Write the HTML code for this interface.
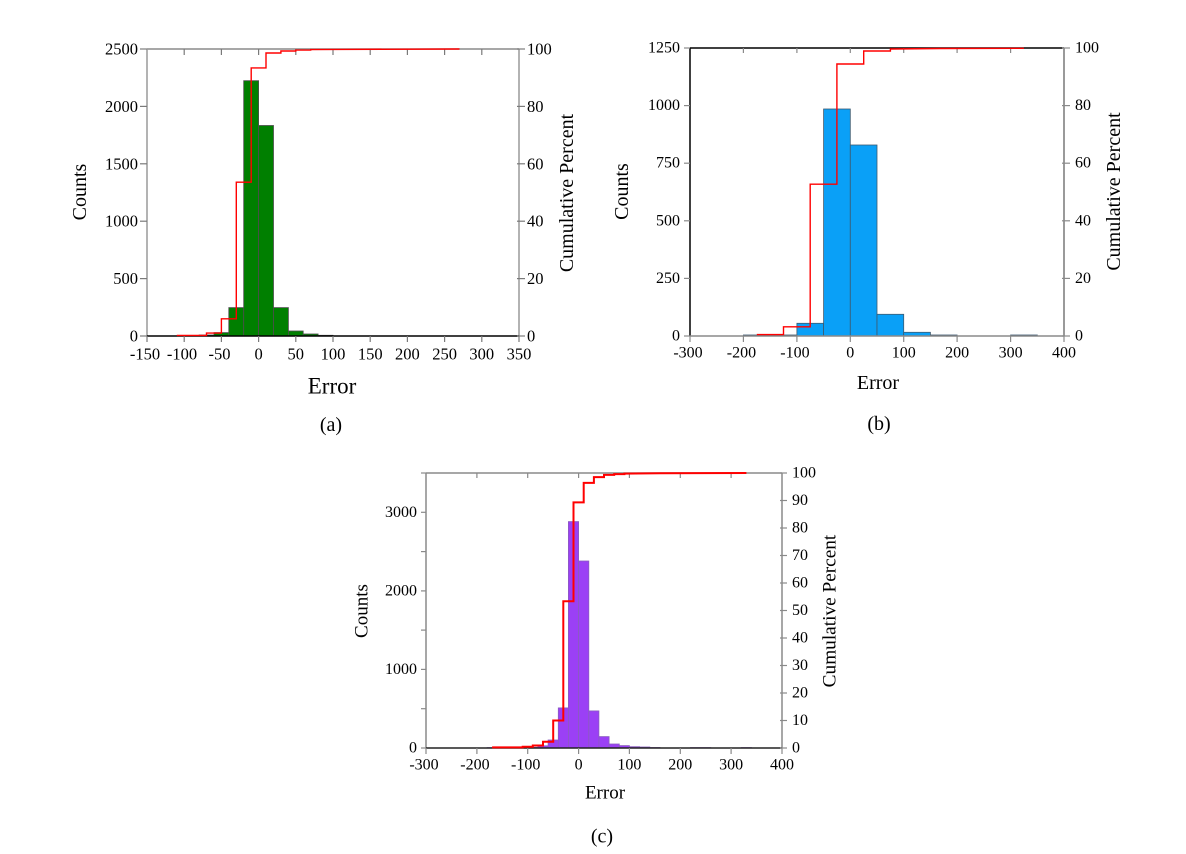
<!DOCTYPE html>
<html>
<head>
<meta charset="utf-8">
<style>
  html,body{margin:0;padding:0;background:#fff;}
  svg{display:block;}
  text{font-family:"Liberation Serif","Times New Roman",serif;fill:#000;}
</style>
</head>
<body>
<svg width="1186" height="854" viewBox="0 0 1186 854" xmlns="http://www.w3.org/2000/svg">
<rect width="1186" height="854" fill="#fff"/>

<!-- ================= PANEL A ================= -->
<g>
  <g fill="#007f00" stroke="#4d4d4d" stroke-width="0.8">
    <rect x="184.2" y="335.5" width="14.9" height="0.5"/>
    <rect x="199.1" y="335" width="14.9" height="1"/>
    <rect x="214" y="332.6" width="14.8" height="3.4"/>
    <rect x="228.8" y="307.6" width="14.9" height="28.4"/>
    <rect x="243.7" y="80.7" width="14.9" height="255.3"/>
    <rect x="258.6" y="125.5" width="14.9" height="210.5"/>
    <rect x="273.5" y="307.6" width="14.9" height="28.4"/>
    <rect x="288.4" y="331" width="14.8" height="5"/>
    <rect x="303.2" y="334" width="14.9" height="2"/>
    <rect x="318.1" y="335.3" width="14.9" height="0.7"/>
  </g>
  <line x1="147" y1="49" x2="519" y2="49" stroke="#8a8a8a" stroke-width="1.5"/>
  <line x1="147" y1="49" x2="147" y2="336" stroke="#9a9a9a" stroke-width="1.5"/>
  <line x1="519" y1="49" x2="519" y2="336" stroke="#9a9a9a" stroke-width="1.5"/>
  <line x1="147" y1="336" x2="519" y2="336" stroke="#000" stroke-width="1.5"/>
  <g stroke="#7a7a7a" stroke-width="1.2">
    <line x1="147" y1="336" x2="147" y2="342"/><line x1="184.2" y1="336" x2="184.2" y2="342"/>
    <line x1="221.4" y1="336" x2="221.4" y2="342"/><line x1="258.6" y1="336" x2="258.6" y2="342"/>
    <line x1="295.8" y1="336" x2="295.8" y2="342"/><line x1="333" y1="336" x2="333" y2="342"/>
    <line x1="370.2" y1="336" x2="370.2" y2="342"/><line x1="407.4" y1="336" x2="407.4" y2="342"/>
    <line x1="444.6" y1="336" x2="444.6" y2="342"/><line x1="481.8" y1="336" x2="481.8" y2="342"/>
    <line x1="519" y1="336" x2="519" y2="342"/>
    <line x1="184.2" y1="49" x2="184.2" y2="55"/><line x1="221.4" y1="49" x2="221.4" y2="55"/>
    <line x1="258.6" y1="49" x2="258.6" y2="55"/><line x1="295.8" y1="49" x2="295.8" y2="55"/>
    <line x1="333" y1="49" x2="333" y2="55"/><line x1="370.2" y1="49" x2="370.2" y2="55"/>
    <line x1="407.4" y1="49" x2="407.4" y2="55"/><line x1="444.6" y1="49" x2="444.6" y2="55"/>
    <line x1="481.8" y1="49" x2="481.8" y2="55"/>
    <line x1="140" y1="49" x2="147" y2="49"/><line x1="140" y1="106.4" x2="147" y2="106.4"/>
    <line x1="140" y1="163.8" x2="147" y2="163.8"/><line x1="140" y1="221.2" x2="147" y2="221.2"/>
    <line x1="140" y1="278.6" x2="147" y2="278.6"/><line x1="140" y1="336" x2="147" y2="336"/>
    <line x1="517" y1="49" x2="525" y2="49"/><line x1="517" y1="106.4" x2="525" y2="106.4"/>
    <line x1="517" y1="163.8" x2="525" y2="163.8"/><line x1="517" y1="221.2" x2="525" y2="221.2"/>
    <line x1="517" y1="278.6" x2="525" y2="278.6"/><line x1="517" y1="336" x2="525" y2="336"/>
  </g>
  <polyline fill="none" stroke="#ff0000" stroke-width="1.4"
    points="176.8,335.4 206.5,335.4 206.5,333.1 221.4,333.1 221.4,318.8 236.3,318.8 236.3,182.2 251.2,182.2 251.2,67.9 266,67.9 266,53 280.9,53 280.9,51 295.8,51 295.8,50.1 310.7,50.1 310.7,49.6 340,49.4 459.5,49"/>
  <g font-size="16.5" text-anchor="end" dominant-baseline="central">
    <text x="138" y="49">2500</text><text x="138" y="106.4">2000</text>
    <text x="138" y="163.8">1500</text><text x="138" y="221.2">1000</text>
    <text x="138" y="278.6">500</text><text x="138" y="336">0</text>
  </g>
  <g font-size="16.5" text-anchor="start" dominant-baseline="central">
    <text x="527" y="49">100</text><text x="527" y="106.4">80</text>
    <text x="527" y="163.8">60</text><text x="527" y="221.2">40</text>
    <text x="527" y="278.6">20</text><text x="527" y="336">0</text>
  </g>
  <g font-size="16.5" text-anchor="middle" dominant-baseline="central">
    <text x="145" y="354">-150</text><text x="182" y="354">-100</text>
    <text x="219.5" y="354">-50</text><text x="258.6" y="354">0</text>
    <text x="295.8" y="354">50</text><text x="333" y="354">100</text>
    <text x="370.2" y="354">150</text><text x="407.4" y="354">200</text>
    <text x="444.6" y="354">250</text><text x="481.8" y="354">300</text>
    <text x="519" y="354">350</text>
  </g>
  <text x="80" y="192" font-size="20" text-anchor="middle" dominant-baseline="central" transform="rotate(-90 80 192)">Counts</text>
  <text x="567" y="193" font-size="20" text-anchor="middle" dominant-baseline="central" transform="rotate(-90 567 193)">Cumulative Percent</text>
  <text x="332" y="386" font-size="23" text-anchor="middle" dominant-baseline="central">Error</text>
  <text x="331" y="425" font-size="20" text-anchor="middle" dominant-baseline="central">(a)</text>
</g>

<!-- ================= PANEL B ================= -->
<g>
  <g fill="#0aa0f7" stroke="#3d5a70" stroke-width="0.8">
    <rect x="743.4" y="335" width="26.7" height="1" fill="#1a3a6a"/>
    <rect x="770.1" y="335" width="26.8" height="1" fill="#1a3a6a"/>
    <rect x="796.9" y="323.3" width="26.7" height="12.7"/>
    <rect x="823.6" y="109" width="26.7" height="227"/>
    <rect x="850.3" y="145" width="26.7" height="191"/>
    <rect x="877" y="314.3" width="26.7" height="21.7"/>
    <rect x="903.7" y="332.3" width="26.7" height="3.7"/>
    <rect x="930.4" y="335" width="26.7" height="1" fill="#1a3a6a"/>
    <rect x="1010.6" y="335" width="26.7" height="1" fill="#1a3a6a"/>
  </g>
  <line x1="690" y1="48" x2="1064" y2="48" stroke="#000" stroke-width="1.5"/>
  <line x1="690" y1="48" x2="690" y2="336" stroke="#000" stroke-width="1.5"/>
  <line x1="1064" y1="48" x2="1064" y2="336" stroke="#9a9a9a" stroke-width="2"/>
  <line x1="690" y1="336" x2="1064" y2="336" stroke="#8a8a8a" stroke-width="1.5"/>
  <g stroke="#8a8a8a" stroke-width="1.2">
    <line x1="690" y1="336" x2="690" y2="342"/><line x1="743.4" y1="336" x2="743.4" y2="342"/>
    <line x1="796.9" y1="336" x2="796.9" y2="342"/><line x1="850.3" y1="336" x2="850.3" y2="342"/>
    <line x1="903.7" y1="336" x2="903.7" y2="342"/><line x1="957.1" y1="336" x2="957.1" y2="342"/>
    <line x1="1010.6" y1="336" x2="1010.6" y2="342"/><line x1="1064" y1="336" x2="1064" y2="342"/>
    <line x1="743.4" y1="48" x2="743.4" y2="53"/><line x1="796.9" y1="48" x2="796.9" y2="53"/>
    <line x1="850.3" y1="48" x2="850.3" y2="53"/><line x1="903.7" y1="48" x2="903.7" y2="53"/>
    <line x1="957.1" y1="48" x2="957.1" y2="53"/><line x1="1010.6" y1="48" x2="1010.6" y2="53"/>
    <line x1="684" y1="48" x2="690" y2="48"/><line x1="684" y1="105.6" x2="690" y2="105.6"/>
    <line x1="684" y1="163.2" x2="690" y2="163.2"/><line x1="684" y1="220.8" x2="690" y2="220.8"/>
    <line x1="684" y1="278.4" x2="690" y2="278.4"/><line x1="684" y1="336" x2="690" y2="336"/>
    <line x1="1062" y1="48" x2="1070" y2="48"/><line x1="1062" y1="105.6" x2="1070" y2="105.6"/>
    <line x1="1062" y1="163.2" x2="1070" y2="163.2"/><line x1="1062" y1="220.8" x2="1070" y2="220.8"/>
    <line x1="1062" y1="278.4" x2="1070" y2="278.4"/><line x1="1062" y1="336" x2="1070" y2="336"/>
  </g>
  <polyline fill="none" stroke="#ff0000" stroke-width="1.4"
    points="756.8,334.6 783.5,334.6 783.5,326.8 810.2,326.8 810.2,184.2 836.9,184.2 836.9,64 863.7,64 863.7,51 890.4,51 890.4,49 940,48.5 1023.9,48.3"/>
  <g font-size="16" text-anchor="end" dominant-baseline="central">
    <text x="680" y="48">1250</text><text x="680" y="105.6">1000</text>
    <text x="680" y="163.2">750</text><text x="680" y="220.8">500</text>
    <text x="680" y="278.4">250</text><text x="680" y="336">0</text>
  </g>
  <g font-size="16" text-anchor="start" dominant-baseline="central">
    <text x="1075" y="48">100</text><text x="1075" y="105.6">80</text>
    <text x="1075" y="163.2">60</text><text x="1075" y="220.8">40</text>
    <text x="1075" y="278.4">20</text><text x="1075" y="336">0</text>
  </g>
  <g font-size="16" text-anchor="middle" dominant-baseline="central">
    <text x="688" y="353">-300</text><text x="741.4" y="353">-200</text>
    <text x="794.9" y="353">-100</text><text x="850.3" y="353">0</text>
    <text x="903.7" y="353">100</text><text x="957.1" y="353">200</text>
    <text x="1010.6" y="353">300</text><text x="1064" y="353">400</text>
  </g>
  <text x="622" y="191.5" font-size="20" text-anchor="middle" dominant-baseline="central" transform="rotate(-90 622 191.5)">Counts</text>
  <text x="1114" y="191.5" font-size="20" text-anchor="middle" dominant-baseline="central" transform="rotate(-90 1114 191.5)">Cumulative Percent</text>
  <text x="878" y="383" font-size="20" text-anchor="middle" dominant-baseline="central">Error</text>
  <text x="879" y="424" font-size="20" text-anchor="middle" dominant-baseline="central">(b)</text>
</g>

<!-- ================= PANEL C ================= -->
<g>
  <g fill="#9b40f5" stroke="#8a5cc0" stroke-width="0.8">
    <rect x="487.1" y="747.6" width="40.6" height="0.4"/>
    <rect x="527.7" y="747.3" width="10.2" height="0.7"/>
    <rect x="537.9" y="745.8" width="10.2" height="2.2"/>
    <rect x="548.1" y="740" width="10.2" height="8"/>
    <rect x="558.3" y="707.9" width="10.1" height="40.1"/>
    <rect x="568.4" y="521.6" width="10.2" height="226.4"/>
    <rect x="578.6" y="561" width="10.2" height="187"/>
    <rect x="588.8" y="710.9" width="10.1" height="37.1"/>
    <rect x="598.9" y="736.6" width="10.2" height="11.4"/>
    <rect x="609.1" y="744" width="10.2" height="4"/>
    <rect x="619.3" y="745.6" width="10.1" height="2.4"/>
    <rect x="629.4" y="746.7" width="10.2" height="1.3"/>
    <rect x="639.6" y="747" width="10.2" height="1"/>
    <rect x="649.8" y="747.5" width="10.2" height="0.5"/>
    <rect x="690.5" y="747.6" width="20.3" height="0.4"/>
    <rect x="741.3" y="747.6" width="10.2" height="0.4"/>
  </g>
  <line x1="426" y1="473" x2="782" y2="473" stroke="#8a8a8a" stroke-width="1.5"/>
  <line x1="426" y1="473" x2="426" y2="748" stroke="#8a8a8a" stroke-width="1.5"/>
  <line x1="782" y1="473" x2="782" y2="748" stroke="#8a8a8a" stroke-width="1.5"/>
  <line x1="426" y1="748" x2="782" y2="748" stroke="#222" stroke-width="1.5"/>
  <g stroke="#8a8a8a" stroke-width="1.2">
    <line x1="426" y1="748" x2="426" y2="754"/><line x1="476.9" y1="748" x2="476.9" y2="754"/>
    <line x1="527.7" y1="748" x2="527.7" y2="754"/><line x1="578.6" y1="748" x2="578.6" y2="754"/>
    <line x1="629.4" y1="748" x2="629.4" y2="754"/><line x1="680.3" y1="748" x2="680.3" y2="754"/>
    <line x1="731.1" y1="748" x2="731.1" y2="754"/><line x1="782" y1="748" x2="782" y2="754"/>
    <line x1="476.9" y1="473" x2="476.9" y2="478"/><line x1="527.7" y1="473" x2="527.7" y2="478"/>
    <line x1="578.6" y1="473" x2="578.6" y2="478"/><line x1="629.4" y1="473" x2="629.4" y2="478"/>
    <line x1="680.3" y1="473" x2="680.3" y2="478"/><line x1="731.1" y1="473" x2="731.1" y2="478"/>
    <line x1="421" y1="473" x2="426" y2="473"/><line x1="421" y1="512.3" x2="426" y2="512.3"/>
    <line x1="421" y1="551.6" x2="426" y2="551.6"/><line x1="421" y1="590.9" x2="426" y2="590.9"/>
    <line x1="421" y1="630.1" x2="426" y2="630.1"/><line x1="421" y1="669.4" x2="426" y2="669.4"/>
    <line x1="421" y1="708.7" x2="426" y2="708.7"/><line x1="421" y1="748" x2="426" y2="748"/>
    <line x1="780" y1="473" x2="787" y2="473"/><line x1="780" y1="500.5" x2="787" y2="500.5"/>
    <line x1="780" y1="528" x2="787" y2="528"/><line x1="780" y1="555.5" x2="787" y2="555.5"/>
    <line x1="780" y1="583" x2="787" y2="583"/><line x1="780" y1="610.5" x2="787" y2="610.5"/>
    <line x1="780" y1="638" x2="787" y2="638"/><line x1="780" y1="665.5" x2="787" y2="665.5"/>
    <line x1="780" y1="693" x2="787" y2="693"/><line x1="780" y1="720.5" x2="787" y2="720.5"/>
    <line x1="780" y1="748" x2="787" y2="748"/>
  </g>
  <polyline fill="none" stroke="#ff0000" stroke-width="2"
    points="492.1,747.4 522.7,747.4 522.7,746.8 532.8,746.8 532.8,745.5 543,745.5 543,741.7 553.2,741.7 553.2,720.5 563.3,720.5 563.3,601.2 573.5,601.2 573.5,502.4 583.7,502.4 583.7,482.9 593.9,482.9 593.9,477.1 604,477.1 604,474.9 614.2,474.9 614.2,474.1 624.4,474.1 624.4,473.6 660,473.3 746.4,473"/>
  <g font-size="16" text-anchor="end" dominant-baseline="central">
    <text x="417" y="512.3">3000</text><text x="417" y="590.9">2000</text>
    <text x="417" y="669.4">1000</text><text x="417" y="748">0</text>
  </g>
  <g font-size="16" text-anchor="start" dominant-baseline="central">
    <text x="792" y="473">100</text><text x="792" y="500.5">90</text>
    <text x="792" y="528">80</text><text x="792" y="555.5">70</text>
    <text x="792" y="583">60</text><text x="792" y="610.5">50</text>
    <text x="792" y="638">40</text><text x="792" y="665.5">30</text>
    <text x="792" y="693">20</text><text x="792" y="720.5">10</text>
    <text x="792" y="748">0</text>
  </g>
  <g font-size="16" text-anchor="middle" dominant-baseline="central">
    <text x="424" y="765">-300</text><text x="474.9" y="765">-200</text>
    <text x="525.7" y="765">-100</text><text x="578.6" y="765">0</text>
    <text x="629.4" y="765">100</text><text x="680.3" y="765">200</text>
    <text x="731.1" y="765">300</text><text x="782" y="765">400</text>
  </g>
  <text x="362" y="611" font-size="19" text-anchor="middle" dominant-baseline="central" transform="rotate(-90 362 611)">Counts</text>
  <text x="830" y="611" font-size="19.3" text-anchor="middle" dominant-baseline="central" transform="rotate(-90 830 611)">Cumulative Percent</text>
  <text x="605" y="793" font-size="19" text-anchor="middle" dominant-baseline="central">Error</text>
  <text x="602" y="836.5" font-size="20" text-anchor="middle" dominant-baseline="central">(c)</text>
</g>
</svg>
</body>
</html>
